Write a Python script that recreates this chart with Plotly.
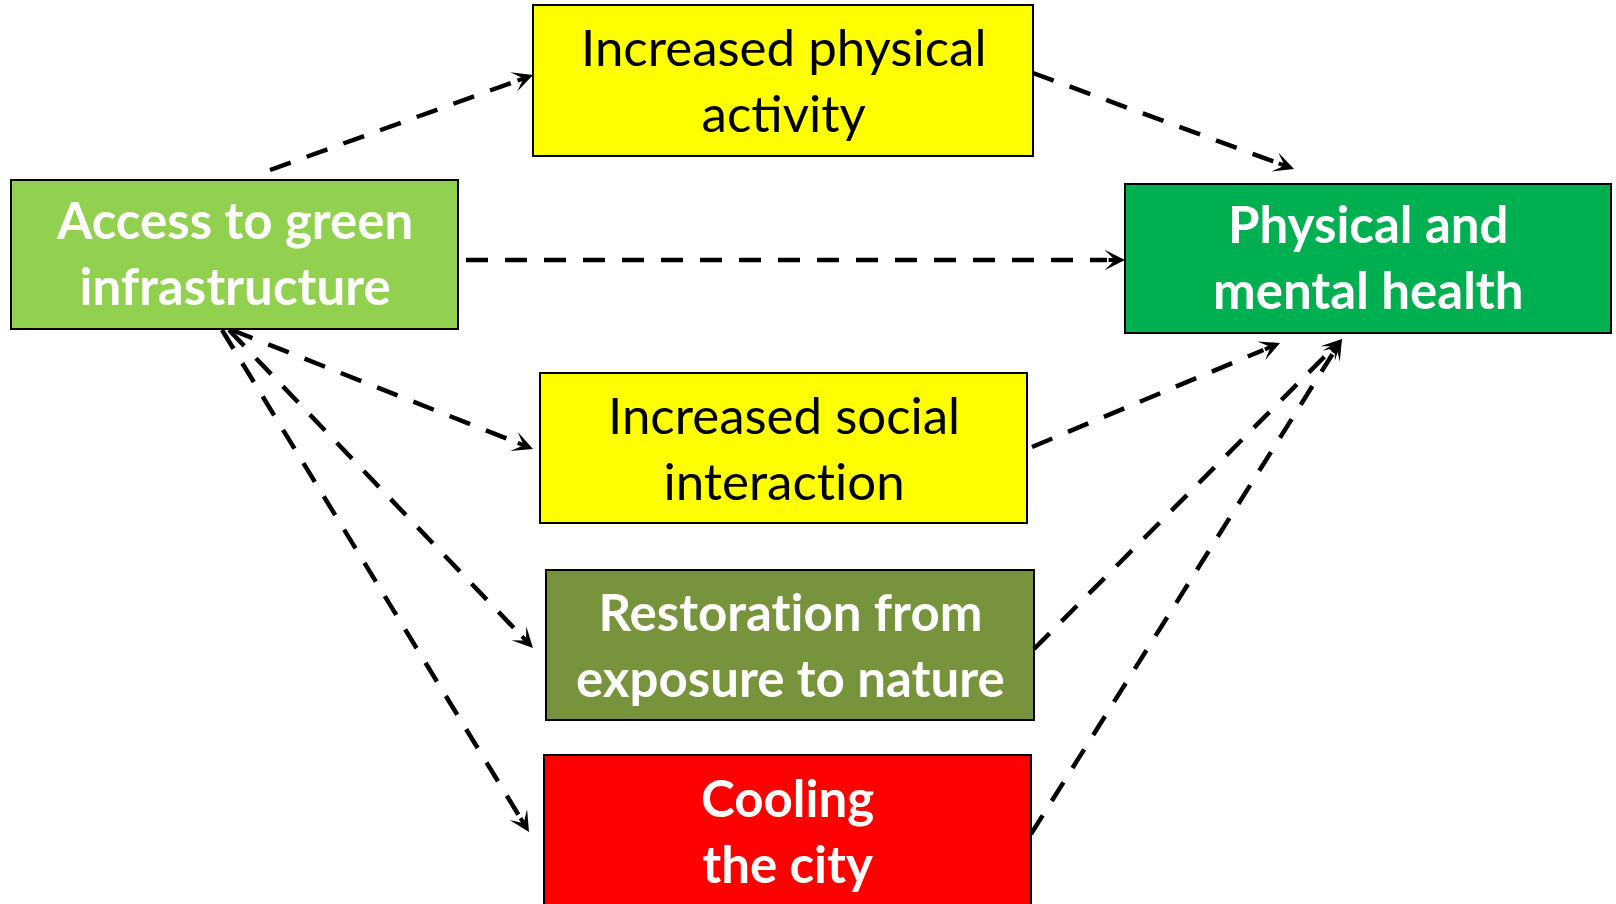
import plotly.graph_objects as go

# ---- diagram data (pixel coordinates of the original figure) ----
ZWNJ = "\u200c"  # keeps the font from fusing "ti" into a ligature
node_labels = [
    "Access to green<br>infrastructure",
    "Increased physical<br>activity",
    "Physical and<br>mental health",
    "Increased social<br>interact" + ZWNJ + "ion",
    "Restorat" + ZWNJ + "ion from<br>exposure to nature",
    "Cooling<br>the city",
]
node_x0 = [11, 533, 1125, 540, 546, 544]
node_x1 = [458, 1033, 1611, 1027, 1034, 1031]
node_y0 = [180, 5, 184, 373, 570, 755]
node_y1 = [329, 156, 333, 523, 720, 912]
node_text_y = [252, 79, 256, 447, 644, 830]

# edges: tail (x, y) -> arrow tip (x, y)
edge_x0 = [270, 1033, 466, 232, 229, 222, 1032, 1034, 1031]
edge_y0 = [170, 73, 260, 330, 330, 330, 447, 649, 834]
edge_x1 = [533, 1294, 1125, 533, 533, 529, 1280, 1342, 1342]
edge_y1 = [75, 169, 260, 449, 648, 832, 343, 339, 339]

# ---- styles ----
node_fill = ["#92D050", "#FFFF00", "#00B050", "#FFFF00", "#77933C", "#FF0000"]
node_font_color = ["white", "black", "white", "black", "white", "white"]
node_bold = [True, False, True, False, True, True]

W, H = 1616, 904
fig = go.Figure()

shapes = []
annotations = []
for i, lab in enumerate(node_labels):
    shapes.append(dict(type="rect", xref="x", yref="y",
                       x0=node_x0[i], x1=node_x1[i], y0=node_y0[i], y1=node_y1[i],
                       fillcolor=node_fill[i], line=dict(color="black", width=2),
                       layer="below"))
    txt = "<b>" + lab + "</b>" if node_bold[i] else lab
    annotations.append(dict(x=(node_x0[i] + node_x1[i]) / 2, y=node_text_y[i],
                            xref="x", yref="y", text=txt, showarrow=False,
                            font=dict(family="Lato", size=51, color=node_font_color[i]),
                            align="center", xanchor="center", yanchor="middle"))

HEAD = 18
for i in range(len(edge_x0)):
    x0, y0, x1, y1 = edge_x0[i], edge_y0[i], edge_x1[i], edge_y1[i]
    dx, dy = x1 - x0, y1 - y0
    L = (dx ** 2 + dy ** 2) ** 0.5
    ux, uy = dx / L, dy / L
    xe, ye = x1 - ux * HEAD, y1 - uy * HEAD
    fig.add_trace(go.Scatter(x=[x0, xe], y=[y0, ye], mode="lines",
                             line=dict(color="black", width=4.5, dash="22px,17px"),
                             hoverinfo="skip", showlegend=False))
    annotations.append(dict(x=x1, y=y1, ax=xe, ay=ye, xref="x", yref="y",
                            axref="x", ayref="y", showarrow=True, text="",
                            arrowhead=3, arrowsize=0.85, arrowwidth=4,
                            arrowcolor="black", standoff=0))

fig.update_layout(
    width=W, height=H,
    margin=dict(l=0, r=0, t=0, b=0),
    paper_bgcolor="white", plot_bgcolor="white",
    xaxis=dict(range=[0, W], visible=False, fixedrange=True),
    yaxis=dict(range=[H, 0], visible=False, fixedrange=True),
    shapes=shapes, annotations=annotations,
    showlegend=False,
)

fig.write_html("out.html", config={"displayModeBar": False})
with open("out.html", "r", encoding="utf-8") as f:
    html = f.read()
html = html.replace("<body>", '<body style="margin:0;overflow:hidden">', 1)
with open("out.html", "w", encoding="utf-8") as f:
    f.write(html)
